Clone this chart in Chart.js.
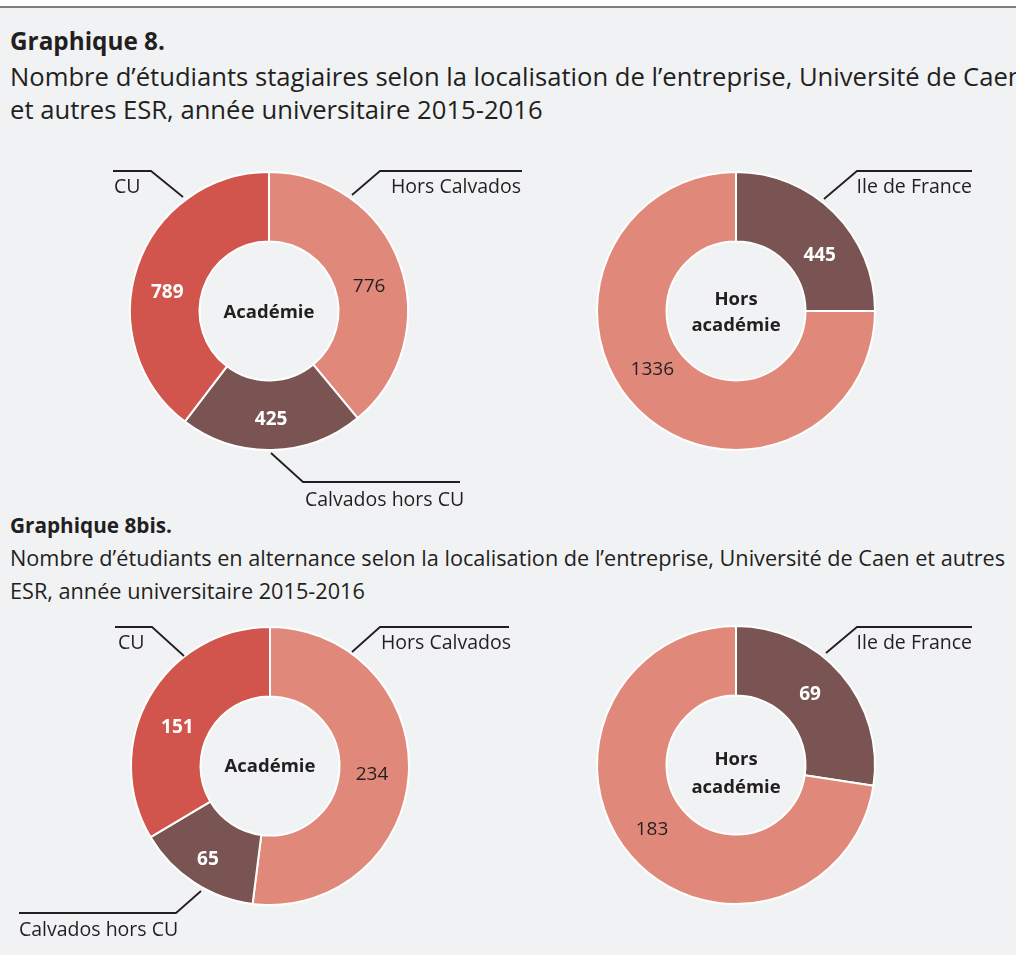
<!DOCTYPE html>
<html lang="fr">
<head>
<meta charset="utf-8">
<script src="https://cdn.jsdelivr.net/npm/chart.js@4.4.0/dist/chart.umd.min.js"></script>
<style>
  html, body { margin: 0; padding: 0; }
  body { width: 1016px; height: 955px; overflow: hidden; position: relative; background: #f1f2f4; font-family: "Open Sans", Lato, sans-serif; color: #231f20; }
  .topbar { position: absolute; left: 0; top: 0; width: 1016px; height: 6px; background: #fff; border-bottom: 2px solid #7f7f7f; }
  .t { position: absolute; left: 10px; white-space: nowrap; line-height: 1.2; }
  canvas { position: absolute; }
</style>
</head>
<body>
<div class="topbar"></div>
<div class="t" id="h1" data-cy="40" style="font-size:21px;font-weight:bold">Graphique 8.</div>
<div class="t" id="s1a" data-cy="77" style="font-size:22px">Nombre d’étudiants stagiaires selon la localisation de l’entreprise, Université de Caen</div>
<div class="t" id="s1b" data-cy="110" style="font-size:22px">et autres ESR, année universitaire 2015-2016</div>
<div class="t" id="h2" data-cy="525" style="font-size:17px;font-weight:bold">Graphique 8bis.</div>
<div class="t" id="s2a" data-cy="558" style="font-size:19px">Nombre d’étudiants en alternance selon la localisation de l’entreprise, Université de Caen et autres</div>
<div class="t" id="s2b" data-cy="591" style="font-size:19px">ESR, année universitaire 2015-2016</div>

<canvas id="acad8" width="560" height="440" style="left:-11px;top:91px"></canvas>
<canvas id="hors8" width="560" height="440" style="left:456px;top:91px"></canvas>
<canvas id="acad8bis" width="560" height="440" style="left:-10px;top:546px"></canvas>
<canvas id="hors8bis" width="560" height="440" style="left:456px;top:545px"></canvas>

<script>
// categories
var academieLabels = ["Hors Calvados", "Calvados hors CU", "CU"];
var horsAcademieLabels = ["Ile de France", "Autres régions"];

// Graphique 8 : stagiaires
var stagiairesAcademie = [776, 425, 789];
var stagiairesHorsAcademie = [445, 1336];

// Graphique 8bis : alternance
var alternanceAcademie = [234, 65, 151];
var alternanceHorsAcademie = [69, 183];

var salmon = "#e0897a";
var red = "#d1554c";
var brown = "#795452";
var academieColors = [salmon, brown, red];
var horsColors = [brown, salmon];

// titles: size them to the widths of the original text, then centre on their line
function fitTitle(ids, target) {
  var ref = document.getElementById(ids[0]);
  var size = parseFloat(getComputedStyle(ref).fontSize);
  var w = ref.getBoundingClientRect().width;
  var newSize = size * target / w;
  ids.forEach(function (id) {
    var el = document.getElementById(id);
    el.style.fontSize = newSize + "px";
    el.style.top = (parseFloat(el.dataset.cy) - el.offsetHeight / 2) + "px";
  });
}
fitTitle(["h1"], 155);
fitTitle(["s1b", "s1a"], 533);
fitTitle(["h2"], 162);
fitTitle(["s2b", "s2a"], 355);

// value labels, centre text and callout lines
var donutLabels = {
  id: "donutLabels",
  afterDatasetsDraw(chart, args, opts) {
    var ctx = chart.ctx;
    var meta = chart.getDatasetMeta(0);
    var cx = meta.data[0].x, cy = meta.data[0].y;
    var values = chart.data.datasets[0].data;
    ctx.save();
    ctx.textAlign = "center";
    ctx.textBaseline = "middle";
    meta.data.forEach(function (arc, i) {
      var p = arc.tooltipPosition();
      var light = opts.lightSlices.indexOf(i) >= 0;
      var nudge = (opts.nudge && opts.nudge[i]) || [0, 0];
      ctx.font = (light ? "" : "bold ") + "19px 'Open Sans'";
      ctx.fillStyle = light ? "#231f20" : "#ffffff";
      ctx.fillText(values[i], p.x + nudge[0], p.y + nudge[1]);
    });

    ctx.font = "bold 18.5px 'Open Sans'";
    ctx.fillStyle = "#231f20";
    opts.center.forEach(function (c) {
      ctx.fillText(c[0], cx, cy + c[1]);
    });

    ctx.strokeStyle = "#231f20";
    ctx.lineWidth = 1.8;
    ctx.font = "19.5px 'Open Sans'";
    opts.callouts.forEach(function (c) {
      ctx.beginPath();
      ctx.moveTo(cx + c.from[0], cy + c.from[1]);
      ctx.lineTo(cx + c.elbow[0], cy + c.elbow[1]);
      ctx.lineTo(cx + c.end, cy + c.elbow[1]);
      ctx.stroke();
      ctx.textAlign = c.align;
      ctx.fillText(chart.data.labels[c.index], cx + c.textX, cy + c.elbow[1] + c.textDy);
    });
    ctx.restore();
  }
};

function makeDonut(id, labels, values, colors, labelOpts) {
  new Chart(id, {
    type: "doughnut",
    data: {
      labels: labels,
      datasets: [{
        data: values,
        backgroundColor: colors,
        borderColor: "#ffffff",
        borderWidth: 2
      }]
    },
    options: {
      responsive: false,
      animation: false,
      devicePixelRatio: 1,
      radius: 139,
      cutout: "50%",
      layout: { padding: 0 },
      plugins: {
        legend: { display: false },
        tooltip: { enabled: false },
        donutLabels: labelOpts
      }
    },
    plugins: [donutLabels]
  });
}

makeDonut("acad8", academieLabels, stagiairesAcademie, academieColors, {
  lightSlices: [0],
  nudge: [[2, 11], [0, 4], [-3, 15]],
  center: [["Académie", 2]],
  callouts: [
    { index: 2, from: [-86, -114], elbow: [-118, -140], end: -156, align: "left", textX: -155, textDy: 16 },
    { index: 0, from: [83, -116], elbow: [111, -140], end: 253, align: "right", textX: 252, textDy: 16 },
    { index: 1, from: [2, 142], elbow: [34, 171], end: 191, align: "left", textX: 36, textDy: 18 }
  ]
});

makeDonut("hors8", horsAcademieLabels, stagiairesHorsAcademie, horsColors, {
  lightSlices: [1],
  nudge: [[10, 18], [-10, -15]],
  center: [["Hors", -11], ["académie", 15]],
  callouts: [
    { index: 0, from: [88, -112], elbow: [121, -140], end: 236, align: "right", textX: 236, textDy: 16 }
  ]
});

makeDonut("acad8bis", academieLabels, alternanceAcademie, academieColors, {
  lightSlices: [0],
  nudge: [[-2, 2], [-5, 6], [-2, 13]],
  center: [["Académie", 1]],
  callouts: [
    { index: 2, from: [-86, -110], elbow: [-118, -139], end: -155, align: "left", textX: -152, textDy: 16 },
    { index: 0, from: [82, -114], elbow: [110, -139], end: 239, align: "right", textX: 241, textDy: 16 },
    { index: 1, from: [-69, 125], elbow: [-94, 147], end: -251, align: "left", textX: -251, textDy: 17 }
  ]
});

makeDonut("hors8bis", horsAcademieLabels, alternanceHorsAcademie, horsColors, {
  lightSlices: [1],
  nudge: [[-5, -2], [-5, -3]],
  center: [["Hors", -5], ["académie", 23]],
  callouts: [
    { index: 0, from: [90, -112], elbow: [121, -138], end: 236, align: "right", textX: 236, textDy: 16 }
  ]
});
</script>
</body>
</html>
